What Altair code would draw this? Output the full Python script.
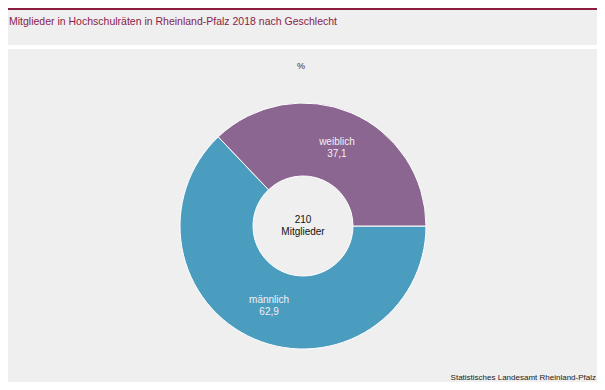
import math
import altair as alt
import pandas as pd

# ---- data ----
categories = ["männlich", "weiblich"]
shares = [62.9, 37.1]
total_members = 210
total_label = "Mitglieder"
title_text = "Mitglieder in Hochschulräten in Rheinland-Pfalz 2018 nach Geschlecht"
unit_text = "%"
source_text = "Statistisches Landesamt  Rheinland-Pfalz"

colors = ["#4b9dbf", "#8b6690"]
bg = "#eeefee"
font = "Liberation Sans"
W, H = 589, 374
CX, CY = 295, 218

df = pd.DataFrame({
    "Geschlecht": categories,
    "Anteil": shares,
    "ord": list(range(len(categories))),
})
df["label"] = [f"{c}\n{v:.1f}".replace(".", ",") for c, v in zip(categories, shares)]

base = alt.Chart(df).encode(
    theta=alt.Theta("Anteil:Q", stack=True,
                    scale=alt.Scale(range=[math.pi / 2, math.pi / 2 + 2 * math.pi])),
    order=alt.Order("ord:Q"),
    x=alt.value(CX),
    y=alt.value(CY),
)

arc = base.mark_arc(innerRadius=50, outerRadius=123, stroke="white", strokeWidth=1).encode(
    color=alt.Color("Geschlecht:N", scale=alt.Scale(domain=categories, range=colors), legend=None)
)

labels = base.mark_text(radius=86, dy=-5, lineBreak="\n", lineHeight=12, font=font, fontSize=10,
                        color="#f3eff5", baseline="middle").encode(text="label:N")

one = pd.DataFrame({"a": [0]})

top_bar = alt.Chart(one).mark_rect(color="#8a1c3d").encode(
    x=alt.value(0), x2=alt.value(W), y=alt.value(0), y2=alt.value(2))
sep = alt.Chart(one).mark_rect(color="white").encode(
    x=alt.value(0), x2=alt.value(W), y=alt.value(37), y2=alt.value(41))

title = alt.Chart(pd.DataFrame({"t": [title_text]})).mark_text(
    align="left", baseline="alphabetic", font=font,
    fontSize=10.5, color="#8a1c4a"
).encode(x=alt.value(1), y=alt.value(17), text="t:N")

unit = alt.Chart(pd.DataFrame({"t": [unit_text]})).mark_text(
    align="center", baseline="middle", font=font, fontSize=9, color="#3a2a2a"
).encode(x=alt.value(293), y=alt.value(58), text="t:N")

center = alt.Chart(pd.DataFrame({"t": [f"{total_members}\n{total_label}"]})).mark_text(
    align="center", baseline="middle", lineBreak="\n", lineHeight=12, font=font, fontSize=10,
    color="#111111"
).encode(x=alt.value(CX), y=alt.value(CY - 6), text="t:N")

source = alt.Chart(pd.DataFrame({"t": [source_text]})).mark_text(
    align="right", baseline="alphabetic", font=font, fontSize=8, color="#222222"
).encode(x=alt.value(W - 1), y=alt.value(372), text="t:N")

chart = alt.layer(top_bar, sep, title, unit, arc, labels, center, source).properties(
    width=W, height=H, autosize="none", padding=0, background=bg
).configure_view(stroke=None)

chart.save("out.html", embed_options={"renderer": "svg", "actions": False})
